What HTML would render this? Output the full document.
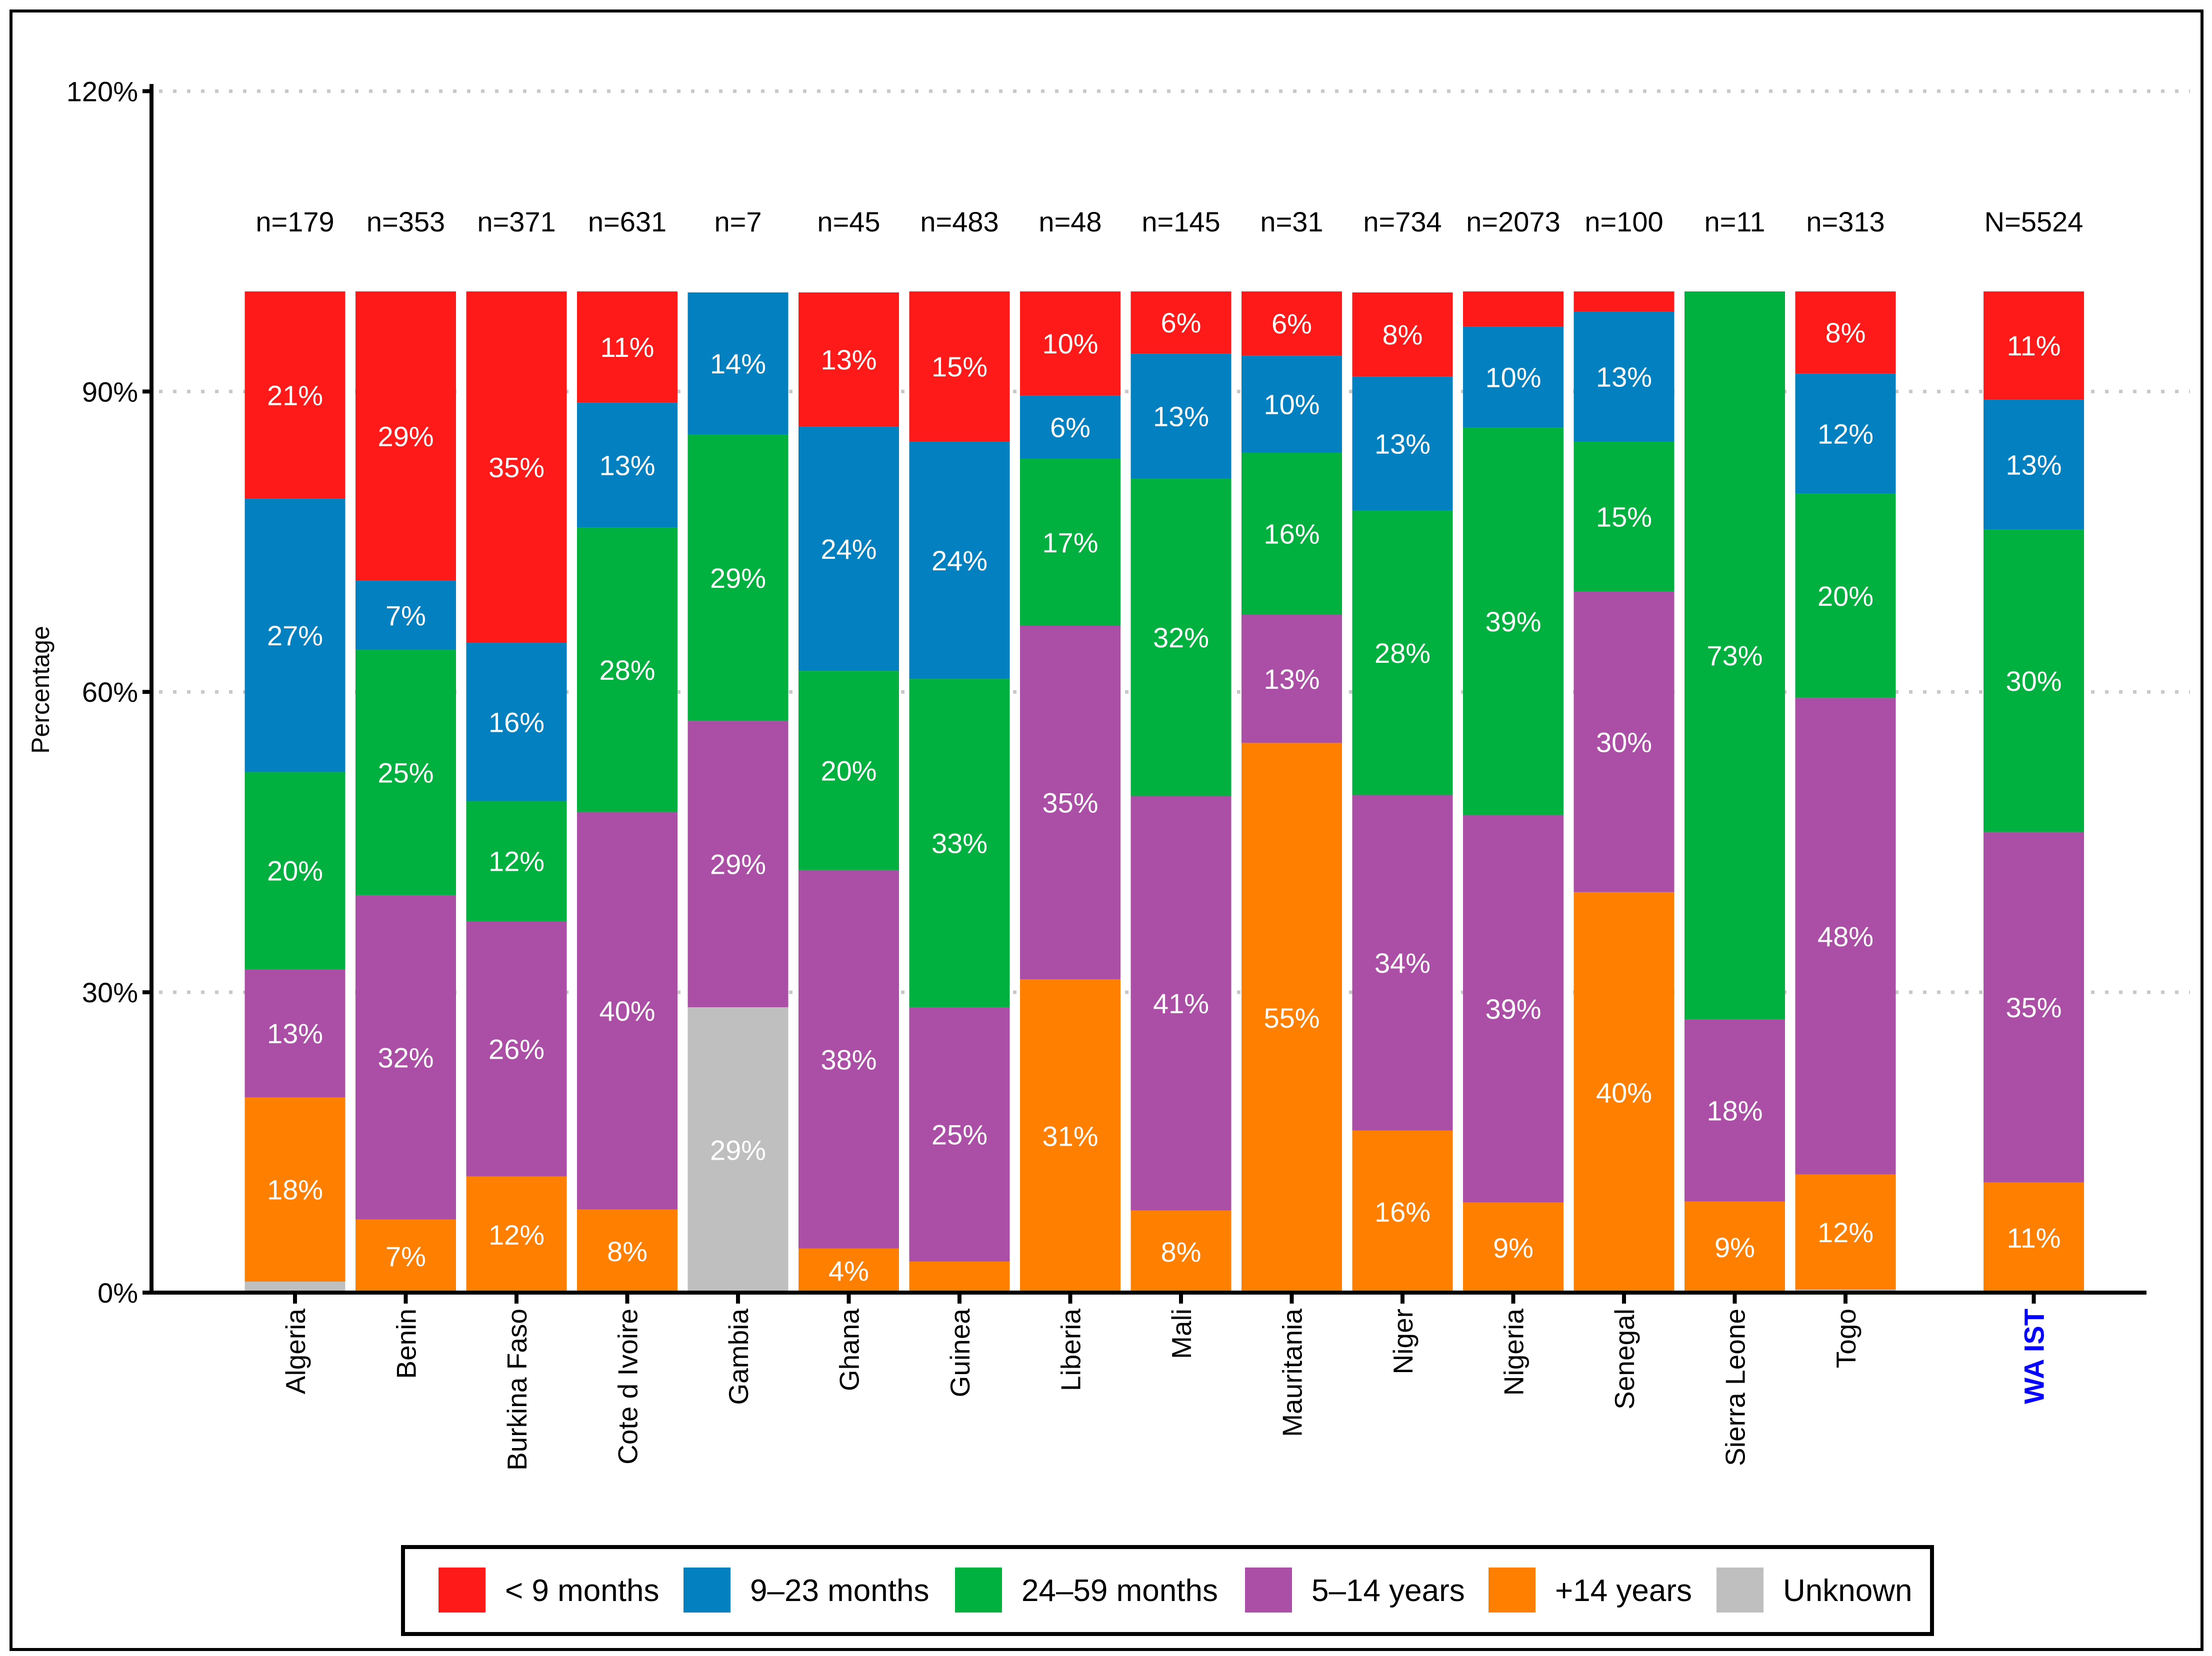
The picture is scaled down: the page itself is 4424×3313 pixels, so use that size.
<!DOCTYPE html>
<html><head><meta charset="utf-8"><style>
html,body{margin:0;padding:0;background:#fff}
svg{display:block}
text{font-family:"Liberation Sans",Arial,sans-serif}
</style></head><body>
<svg id="chart" width="4424" height="3313" viewBox="0 0 4424 3313" xmlns="http://www.w3.org/2000/svg">
<rect x="22" y="22" width="4382" height="3278" fill="#fff" stroke="#000" stroke-width="6"/>
<g id="grid"></g><g id="bars"></g><g id="axes"></g><g id="labels"></g>
<text x="0" y="0" transform="translate(98,1380) rotate(-90)" text-anchor="middle" font-size="50" font-family="DejaVu Sans, sans-serif">Percentage</text>
<g id="legend"></g>
</svg>
<script>
const categories=["Algeria","Benin","Burkina Faso","Cote d Ivoire","Gambia","Ghana","Guinea","Liberia","Mali","Mauritania","Niger","Nigeria","Senegal","Sierra Leone","Togo","WA IST"];
const nLabels=["n=179","n=353","n=371","n=631","n=7","n=45","n=483","n=48","n=145","n=31","n=734","n=2073","n=100","n=11","n=313","N=5524"];
const seriesNames=["Unknown","+14 years","5–14 years","24–59 months","9–23 months","< 9 months"];
const unknown=[1.1,0,0,0,28.5,0,0,0,0,0,0,0,0,0,0.3,0];
const plus14=[18.4,7.3,11.6,8.3,0,4.4,3.1,31.3,8.2,54.9,16.2,9.0,40,9.1,11.5,11];
const y5to14=[12.8,32.4,25.5,39.7,28.6,37.8,25.4,35.3,41.4,12.8,33.5,38.7,30,18.2,47.6,35];
const m24to59=[19.7,24.5,12.0,28.4,28.6,19.9,32.8,16.7,31.7,16.2,28.4,38.7,15,72.7,20.4,30.2];
const m9to23=[27.3,6.9,15.8,12.5,14.2,24.4,23.7,6.3,12.5,9.7,13.4,10.1,13,0,12,13];
const lt9=[20.7,28.9,35.1,11.1,0,13.4,15,10.4,6.2,6.4,8.4,3.5,2,0,8.2,10.8];
const yTicks=[0,30,60,90,120];
const yTickLabels=["0%","30%","60%","90%","120%"];

const series=[unknown,plus14,y5to14,m24to59,m9to23,lt9];
const colors=["#bfbfbf","#ff8000","#ab4ea6","#00b140","#0380bf","#ff1a1a"];
const NS="http://www.w3.org/2000/svg";
const y0=2586,yPerPct=20.03;
function yS(v){return y0-v*yPerPct;}
function xS(i){return 590+221.5*(i<15?i:15.7);}
const barW=201;
function mk(tag,attrs,parent,txt){const e=document.createElementNS(NS,tag);for(const k in attrs)e.setAttribute(k,attrs[k]);if(txt!==undefined)e.textContent=txt;parent.appendChild(e);return e;}
const G=id=>document.getElementById(id);
yTicks.forEach((t,i)=>{
  if(t>0){const l=mk("line",{x1:318,x2:4380,y1:yS(t),y2:yS(t),stroke:"#c8c8c8","stroke-width":7,"stroke-dasharray":"7 21"},G("grid"));
  
  }
  const tk=mk("line",{x1:285,x2:303,y1:yS(t),y2:yS(t),stroke:"#000","stroke-width":8},G("axes"));
  
  
  const tl=mk("text",{x:276,y:yS(t)+20,"text-anchor":"end","font-size":56},G("axes"),yTickLabels[i]);
  
  
});
categories.forEach((c,i)=>{
  let cum=0;const cx=xS(i);
  series.forEach((s,j)=>{
    const v=s[i];if(v<=0)return;
    const r=mk("rect",{x:cx-barW/2,y:yS(cum+v),width:barW,height:v*yPerPct,fill:colors[j]},G("bars"));
    
    
    if(v>=4){const t=mk("text",{x:cx,y:yS(cum+v/2)+20,"text-anchor":"middle","font-size":56,fill:"#fff"},G("labels"),Math.round(v)+"%");
      
      }
    cum+=v;
  });
  const n=mk("text",{x:cx,y:463,"text-anchor":"middle","font-size":56},G("labels"),nLabels[i]);
  
  
  const tk=mk("line",{x1:cx,x2:cx,y1:y0,y2:y0+22,stroke:"#000","stroke-width":8},G("axes"));
  
  
  const isT=i===15;
  const xl=mk("text",{transform:`translate(${cx+20},2618) rotate(-90)`,"text-anchor":"end","font-size":isT?56:55,"font-family":"DejaVu Sans, sans-serif","font-weight":isT?"bold":"normal",fill:isT?"#0000ff":"#000"},G("labels"),c);
  
  
});
const ya=mk("line",{x1:303,x2:303,y1:168,y2:y0+4,stroke:"#000","stroke-width":8},G("axes"));


const xa=mk("line",{x1:299,x2:4293,y1:y0,y2:y0,stroke:"#000","stroke-width":8},G("axes"));


const lg=G("legend");
const box=mk("rect",{x:806,y:3095,width:3058,height:174,fill:"#fff",stroke:"#000","stroke-width":8},lg);


const legOrder=[5,4,3,2,1,0];
const swX=[877,1367,1910,2490,2977,3433];
legOrder.forEach((j,k)=>{
  const s=mk("rect",{x:swX[k],y:3136,width:94,height:90,fill:colors[j]},lg);
  
  
  const t=mk("text",{x:swX[k]+133,y:3203,"font-size":62},lg,seriesNames[j]);
  
  
});
</script>
</body></html>
